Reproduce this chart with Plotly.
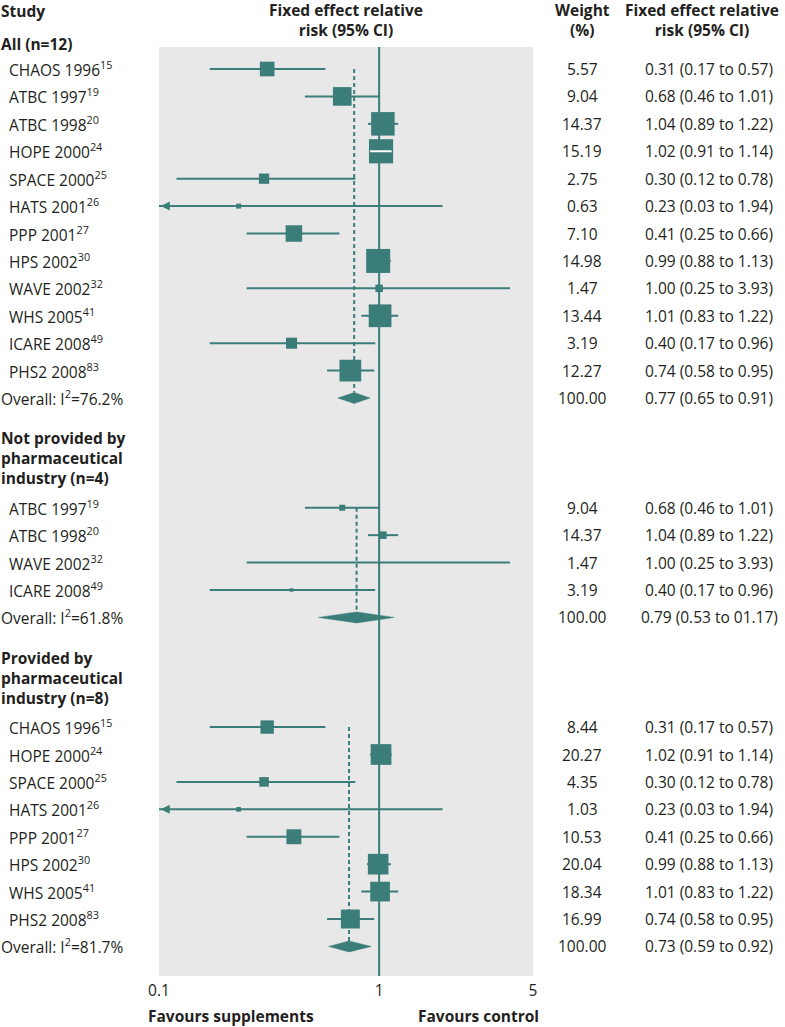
import math
import plotly.graph_objects as go

# ---------------- data ----------------
g1_names = ["CHAOS 1996<sup>15</sup>", "ATBC 1997<sup>19</sup>", "ATBC 1998<sup>20</sup>",
            "HOPE 2000<sup>24</sup>", "SPACE 2000<sup>25</sup>", "HATS 2001<sup>26</sup>",
            "PPP 2001<sup>27</sup>", "HPS 2002<sup>30</sup>", "WAVE 2002<sup>32</sup>",
            "WHS 2005<sup>41</sup>", "ICARE 2008<sup>49</sup>", "PHS2 2008<sup>83</sup>"]
g1_weight = [5.57, 9.04, 14.37, 15.19, 2.75, 0.63, 7.10, 14.98, 1.47, 13.44, 3.19, 12.27]
g1_rr = [0.31, 0.68, 1.04, 1.02, 0.30, 0.23, 0.41, 0.99, 1.00, 1.01, 0.40, 0.74]
g1_lo = [0.17, 0.46, 0.89, 0.91, 0.12, 0.03, 0.25, 0.88, 0.25, 0.83, 0.17, 0.58]
g1_hi = [0.57, 1.01, 1.22, 1.14, 0.78, 1.94, 0.66, 1.13, 3.93, 1.22, 0.96, 0.95]
g1_overall = [0.77, 0.65, 0.91]
g1_overall_label = "Overall: I<sup>2</sup>=76.2%"
g1_overall_ci = "0.77 (0.65 to 0.91)"

g2_names = ["ATBC 1997<sup>19</sup>", "ATBC 1998<sup>20</sup>", "WAVE 2002<sup>32</sup>",
            "ICARE 2008<sup>49</sup>"]
g2_weight = [9.04, 14.37, 1.47, 3.19]
g2_rr = [0.68, 1.04, 1.00, 0.40]
g2_lo = [0.46, 0.89, 0.25, 0.17]
g2_hi = [1.01, 1.22, 3.93, 0.96]
g2_overall = [0.79, 0.53, 1.17]
g2_overall_label = "Overall: I<sup>2</sup>=61.8%"
g2_overall_ci = "0.79 (0.53 to 01.17)"

g3_names = ["CHAOS 1996<sup>15</sup>", "HOPE 2000<sup>24</sup>", "SPACE 2000<sup>25</sup>",
            "HATS 2001<sup>26</sup>", "PPP 2001<sup>27</sup>", "HPS 2002<sup>30</sup>",
            "WHS 2005<sup>41</sup>", "PHS2 2008<sup>83</sup>"]
g3_weight = [8.44, 20.27, 4.35, 1.03, 10.53, 20.04, 18.34, 16.99]
g3_rr = [0.31, 1.02, 0.30, 0.23, 0.41, 0.99, 1.01, 0.74]
g3_lo = [0.17, 0.91, 0.12, 0.03, 0.25, 0.88, 0.83, 0.58]
g3_hi = [0.57, 1.14, 0.78, 1.94, 0.66, 1.13, 1.22, 0.95]
g3_overall = [0.73, 0.59, 0.92]
g3_overall_label = "Overall: I<sup>2</sup>=81.7%"
g3_overall_ci = "0.73 (0.59 to 0.92)"

group_titles = ["All (n=12)", "Not provided by<br>pharmaceutical<br>industry (n=4)",
                "Provided by<br>pharmaceutical<br>industry (n=8)"]
x_ticks = [0.1, 1, 5]
x_tick_labels = ["0.1", "1", "5"]

# ---------------- style / layout ----------------
W, H = 785, 1027
PL, PR = 159, 533          # plot left/right (page px)
PT, PB = 47, 976           # plot top/bottom (page px)
ROW0_PX, ROW_H = 69, 27.42
TEAL = "#3b7d79"
BG = "#e8e8e8"
TXT = "#231f20"
FONT = "Open Sans"
FS = 15.5
HFS = 15.5
XMIN, XMAX = 0.1, 5
PX_PER_DEC = (PR - PL) / (math.log10(XMAX) - math.log10(XMIN))


def px2row(py):
    return (py - ROW0_PX) / ROW_H


def pxx(px):
    return (px - PL) / (PR - PL)


def pxy(py):
    return (PB - py) / (PB - PT)


fig = go.Figure()
annots = []


def text(x_px, y_px, s, anchor="left", bold=False, size=FS):
    annots.append(dict(xref="paper", yref="paper", x=pxx(x_px), y=pxy(y_px),
                       text=f"<b>{s}</b>" if bold else s, showarrow=False,
                       xanchor=anchor, yanchor="middle", align=anchor,
                       borderpad=0, font=dict(family=FONT, size=size, color=TXT)))


def row_px(r):
    return ROW0_PX + r * ROW_H


groups = [
    (g1_names, g1_weight, g1_rr, g1_lo, g1_hi, g1_overall, g1_overall_label, g1_overall_ci, 0, 6.2),
    (g2_names, g2_weight, g2_rr, g2_lo, g2_hi, g2_overall, g2_overall_label, g2_overall_ci, 16, 2.0),
    (g3_names, g3_weight, g3_rr, g3_lo, g3_hi, g3_overall, g3_overall_label, g3_overall_ci, 24, 4.6),
]
title_px = [44, 458, 678]

fig.add_vline(x=1, line=dict(color=TEAL, width=2), layer="below")

for gi, (names, wts, rr, lo, hi, ov, ovlab, ovci, start, k) in enumerate(groups):
    rows = [start + i for i in range(len(names))]
    orow = start + len(names)
    text(0, title_px[gi], group_titles[gi], bold=True, size=HFS)
    # dashed line at overall estimate
    fig.add_trace(go.Scatter(x=[ov[0], ov[0]], y=[rows[0], orow - 0.2], mode="lines",
                             line=dict(color=TEAL, width=2, dash="4px,3px"),
                             hoverinfo="skip", showlegend=False))
    sizes = [k * math.sqrt(w) for w in wts]
    white_rows = []
    for r, e, l, h, s in zip(rows, rr, lo, hi, sizes):
        half = s / 2 / PX_PER_DEC
        inside = (math.log10(e) - math.log10(l) < half) and (math.log10(h) - math.log10(e) < half)
        lx = max(l, XMIN)
        fig.add_trace(go.Scatter(x=[lx, h], y=[r, r], mode="lines",
                                 line=dict(color=TEAL, width=2), hoverinfo="skip", showlegend=False))
        if l < XMIN:
            annots.append(dict(xref="x", yref="y", axref="x", ayref="y",
                               x=math.log10(XMIN) + 0.008, y=r, ax=math.log10(XMIN) + 0.05, ay=r,
                               showarrow=True, arrowhead=2, arrowsize=0.9, arrowwidth=2,
                               arrowcolor=TEAL, standoff=0, text=""))
        if inside:
            white_rows.append((r, l, h))
    fig.add_trace(go.Scatter(x=rr, y=rows, mode="markers",
                             marker=dict(symbol="square", size=sizes, color=TEAL, opacity=1,
                                         line=dict(width=0)),
                             hoverinfo="skip", showlegend=False))
    for r, l, h in white_rows:
        fig.add_trace(go.Scatter(x=[l, h], y=[r, r], mode="lines",
                                 line=dict(color="white", width=2), hoverinfo="skip", showlegend=False))
    # diamond
    fig.add_trace(go.Scatter(x=[ov[1], ov[0], ov[2], ov[0], ov[1]],
                             y=[orow, orow - 0.2, orow, orow + 0.2, orow],
                             mode="lines", fill="toself", fillcolor=TEAL,
                             line=dict(color=TEAL, width=0.5), hoverinfo="skip", showlegend=False))
    for r, nm, w, e, l, h in zip(rows, names, wts, rr, lo, hi):
        text(8, row_px(r), nm)
        text(582, row_px(r), f"{w:.2f}", anchor="center")
        text(709, row_px(r), f"{e:.2f} ({l:.2f} to {h:.2f})", anchor="center")
    text(0, row_px(orow), ovlab)
    text(582, row_px(orow), "100.00", anchor="center")
    text(709, row_px(orow), ovci, anchor="center")

# headers
text(0, 11, "Study", bold=True, size=HFS)
text(346, 20, "Fixed effect relative<br>risk (95% CI)", anchor="center", bold=True, size=HFS)
text(582, 20, "Weight<br>(%)", anchor="center", bold=True, size=HFS)
text(702, 20, "Fixed effect relative<br>risk (95% CI)", anchor="center", bold=True, size=HFS)
text(147, 1016, "Favours supplements", bold=True, size=HFS)
text(540, 1016, "Favours control", anchor="right", bold=True, size=HFS)

fig.update_layout(
    width=W, height=H,
    margin=dict(l=PL, r=W - PR, t=PT, b=H - PB, pad=0),
    plot_bgcolor=BG, paper_bgcolor="white",
    annotations=annots,
    showlegend=False,
    hovermode=False,
    font=dict(family=FONT, size=FS, color=TXT),
    xaxis=dict(type="log", range=[math.log10(XMIN), math.log10(XMAX)], tickvals=x_ticks,
               ticktext=x_tick_labels, showgrid=False, zeroline=False, showline=False, ticks="",
               ticklabelstandoff=3, tickfont=dict(family=FONT, size=FS, color=TXT), fixedrange=True),
    yaxis=dict(range=[px2row(PB), px2row(PT)], showgrid=False, zeroline=False, showline=False,
               showticklabels=False, ticks="", fixedrange=True),
)

# remove the browser's default 8px body margin so the figure sits at the page origin
fig.write_html("out.html", config={"displayModeBar": False},
               post_script="document.body.style.margin='0px';")
